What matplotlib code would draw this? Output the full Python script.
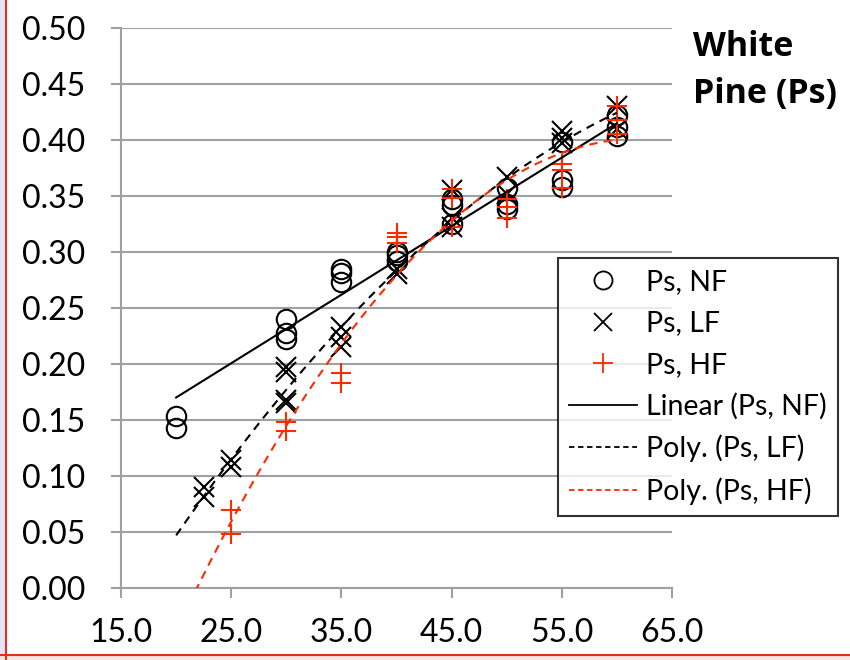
import numpy as np
import matplotlib
matplotlib.use("Agg")
import matplotlib.pyplot as plt
from matplotlib.lines import Line2D
from matplotlib.patches import Rectangle

plt.rcParams['font.family'] = ['Lato', 'DejaVu Sans']

# Data (x = temperature-like variable, y = value)
nf_x = [20, 20, 30, 30, 30, 35, 35, 35, 40, 40, 40, 45, 45, 45, 50, 50, 50, 55, 55, 55, 60, 60, 60]
nf_y = [0.154, 0.143, 0.240, 0.228, 0.222, 0.285, 0.281, 0.273, 0.300, 0.297, 0.292,
        0.347, 0.342, 0.325, 0.357, 0.343, 0.338, 0.364, 0.358, 0.398, 0.422, 0.412, 0.404]

lf_x = [22.5, 22.5, 25, 25, 30, 30, 30, 30, 35, 35, 35, 40, 40, 45, 45, 45, 50, 50, 55, 55, 55, 60, 60]
lf_y = [0.090, 0.081, 0.114, 0.108, 0.197, 0.193, 0.168, 0.165, 0.233, 0.224, 0.215,
        0.285, 0.280, 0.355, 0.330, 0.322, 0.367, 0.352, 0.408, 0.402, 0.397, 0.430, 0.410]

hf_x = [25, 25, 30, 30, 35, 35, 40, 40, 40, 45, 45, 45, 50, 50, 50, 55, 55, 55, 60, 60, 60]
hf_y = [0.070, 0.048, 0.148, 0.140, 0.192, 0.183, 0.317, 0.313, 0.308,
        0.356, 0.348, 0.322, 0.347, 0.340, 0.330, 0.379, 0.373, 0.357, 0.430, 0.418, 0.405]

x_ticks = [15, 25, 35, 45, 55, 65]
y_ticks = [0.00, 0.05, 0.10, 0.15, 0.20, 0.25, 0.30, 0.35, 0.40, 0.45, 0.50]

RED = '#FF2A00'
GRID = '#A0A0A0'

fig = plt.figure(figsize=(8.5, 6.6), dpi=100)

# outer frame hints (lavender strip, red border lines, pinkish bottom strip)
fig.add_artist(Rectangle((0, 0), 0.006, 1, transform=fig.transFigure, color='#E4E4F8', lw=0, zorder=0))
fig.add_artist(Rectangle((0, 0), 1, 0.006, transform=fig.transFigure, color='#F8E4E0', lw=0, zorder=0))

ax = fig.add_axes([0.1424, 0.1091, 0.6482, 0.8485])

ms = 14
ax.plot(nf_x, nf_y, linestyle='none', marker='o', ms=ms, mfc='none', mec='black', mew=1.5, zorder=3)
ax.plot(lf_x, lf_y, linestyle='none', marker='x', ms=ms, mec='black', mew=1.5, zorder=3)
ax.plot(hf_x, hf_y, linestyle='none', marker='+', ms=ms + 1, mec=RED, mew=1.5, zorder=3)

xs = np.linspace(20, 60, 200)
p_nf = np.polyfit(nf_x, nf_y, 1)
p_lf = np.polyfit(lf_x, lf_y, 2)
p_hf = np.polyfit(hf_x, hf_y, 2)
ax.plot(xs, np.polyval(p_nf, xs), color='black', lw=1.5, zorder=4)
ax.plot(xs, np.polyval(p_lf, xs), color='black', lw=1.5, ls=(0, (4, 3)), zorder=4)
ax.plot(xs, np.polyval(p_hf, xs), color=RED, lw=1.5, ls=(0, (4, 3)), zorder=4)

ax.set_xlim(15, 65)
ax.set_ylim(0, 0.5)
ax.set_xticks(x_ticks)
ax.set_xticklabels([f"{v:.1f}" for v in x_ticks])
ax.set_yticks(y_ticks)
ax.set_yticklabels([f"{v:.2f}" for v in y_ticks])
ax.yaxis.grid(True, color=GRID, lw=1.5)
ax.set_axisbelow(True)
for s in ['top', 'right']:
    ax.spines[s].set_visible(False)
for s in ['left', 'bottom']:
    ax.spines[s].set_color(GRID)
    ax.spines[s].set_linewidth(1.5)
ax.tick_params(axis='both', direction='out', color=GRID, width=1.5, length=7.5,
               labelsize=23)
ax.tick_params(axis='y', pad=18)
ax.tick_params(axis='x', pad=14)

# Title
fig.text(0.815, 0.955, "White\nPine (Ps)", fontsize=24.5, fontweight='bold',
         ha='left', va='top', linespacing=1.5, family=['Open Sans', 'DejaVu Sans'])

# Legend
handles = [
    Line2D([], [], linestyle='none', marker='o', ms=13, mfc='none', mec='black', mew=1.3),
    Line2D([], [], linestyle='none', marker='x', ms=13, mec='black', mew=1.3),
    Line2D([], [], linestyle='none', marker='+', ms=14, mec=RED, mew=1.3),
    Line2D([], [], color='black', lw=1.3),
    Line2D([], [], color='black', lw=1.3, ls=(0, (3, 2))),
    Line2D([], [], color=RED, lw=1.3, ls=(0, (3, 2))),
]
labels = ["Ps, NF", "Ps, LF", "Ps, HF", "Linear (Ps, NF)", "Poly. (Ps, LF)", "Poly. (Ps, HF)"]
leg = fig.legend(handles, labels, loc='upper left', bbox_to_anchor=(0.656, 0.609),
                 fontsize=20.5, frameon=True, fancybox=False, edgecolor='black',
                 handlelength=2.4, handletextpad=0.3, labelspacing=0.53,
                 borderpad=0.4, borderaxespad=0)
leg.get_frame().set_linewidth(1.5)

# Figure border lines (left and bottom, red)
fig.add_artist(Line2D([0.0075, 0.0075], [0.0, 1.0], color='#E03020', lw=1.5, transform=fig.transFigure))
fig.add_artist(Line2D([0.0, 1.0], [0.007, 0.007], color='#E03020', lw=1.5, transform=fig.transFigure))

fig.savefig("out.png", dpi=100)
